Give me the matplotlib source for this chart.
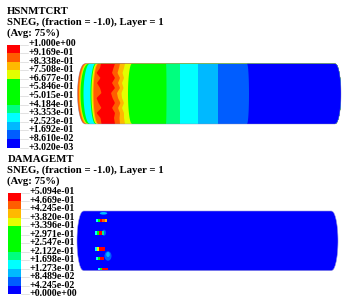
import numpy as np
import matplotlib
matplotlib.use("Agg")
import matplotlib.pyplot as plt
from matplotlib.patches import Polygon, Rectangle, Ellipse

mpl_font = "Liberation Serif"
fontsize = 7.1
title_size = 7.75

legend_colors = ["#ff0000", "#ff5d00", "#ffb900", "#e3ff00", "#00ff00", "#00ff00",
                 "#00ff00", "#00ff7f", "#00ffff", "#00b9ff", "#005dff", "#0000ff"]

top_title = ["HSNMTCRT", "SNEG, (fraction = -1.0), Layer = 1", "(Avg: 75%)"]
top_labels = ["+1.000e+00", "+9.169e-01", "+8.338e-01", "+7.508e-01", "+6.677e-01",
              "+5.846e-01", "+5.015e-01", "+4.184e-01", "+3.353e-01", "+2.523e-01",
              "+1.692e-01", "+8.610e-02", "+3.020e-03"]

bot_title = ["DAMAGEMT", "SNEG, (fraction = -1.0), Layer = 1", "(Avg: 75%)"]
bot_labels = ["+5.094e-01", "+4.669e-01", "+4.245e-01", "+3.820e-01", "+3.396e-01",
              "+2.971e-01", "+2.547e-01", "+2.122e-01", "+1.698e-01", "+1.273e-01",
              "+8.489e-02", "+4.245e-02", "+0.000e+00"]

# contour bands along the top cylinder, pixel x at the cylinder's top edge,
# how far the band edge bows at mid height, and the legend colour index
band_x = [85, 86.5, 87.5, 88.5, 90, 95.5, 96.5, 97.5, 98.5, 132, 166, 180, 198, 218, 247]
band_bow = [-7.5, -7.5, -7.5, -8, -6.5, -5, -5, -5, -5, -4, 0.5, 0, 0, 0, 2]
band_col = [1, 2, 3, 4, 8, 4, 3, 2, 1, 4, 7, 8, 9, 10, 11]

# wavy hot zone, pixel positions
wave_y = [63.5, 68, 73, 78, 83, 88, 93, 98, 103, 108, 113, 118, 124]
red_left = [101, 100, 96.5, 100.5, 97, 100, 101.5, 96.5, 98.5, 101.5, 96.5, 100.5, 101.5]
red_right = [115, 113.5, 112, 115, 112, 115, 111, 112.5, 115, 112, 115, 114, 115]
amber_right = [120, 119, 117.5, 120, 118, 120, 117, 118, 120.5, 118, 120, 119.5, 120]
lime_left = [125, 124, 122.5, 124, 122, 123.5, 121.5, 122, 124, 122, 124, 124, 125]

# damage spots: row y, then x start, x end, colour index of each piece
spot_y = [220.7, 232.7, 249.3, 258.7, 268.7]
spot_x = [[96, 98, 100, 101.5, 104.5, 106.5], [95, 97, 99, 102, 104], [95, 97, 99, 105],
          [96, 98, 100, 104], [98, 100, 102, 108]]
spot_c = [[8, 4, 0, 1, 2], [8, 4, 0, 7], [8, 3, 0], [8, 4, 0], [8, 4, 0]]
spot_h = [3.2, 4, 4, 3.2, 2.2]


def end_curve(y, yc, h):
    t = np.clip((y - yc) / h, -1, 1)
    return np.sqrt(1 - t**2)


def cylinder(y0, y1, x0, x1, bow_l, bow_r):
    yc, h = (y0 + y1) / 2, (y1 - y0) / 2
    y = np.linspace(y0, y1, 60)
    left = x0 + bow_l * end_curve(y, yc, h)
    right = x1 + bow_r * end_curve(y, yc, h)
    return np.r_[np.c_[left, y], np.c_[right[::-1], y[::-1]]]


def legend(ax, x0, x1, y0, y1, labels, title, tx, ty):
    edges = np.linspace(y0, y1, 13)
    for i, c in enumerate(legend_colors):
        ax.add_patch(Rectangle((x0, edges[i]), x1 - x0, edges[i + 1] - edges[i], fc=c, ec="none"))
    for e, lab in zip(edges, labels):
        ax.plot([x1, x1 + 8], [e, e], color="#cccccc", lw=0.4)
        ax.text(x1 + 9, e - 0.5, lab, fontsize=fontsize, fontweight="bold", family=mpl_font,
                va="center", ha="left")
    for i, t in enumerate(title):
        ax.text(tx, ty + i * 11, t, fontsize=title_size, fontweight="bold", family=mpl_font,
                va="center", ha="left")


fig = plt.figure(figsize=(3.48, 3.03), dpi=100)
ax = fig.add_axes([0, 0, 1, 1])
ax.set_xlim(0, 348)
ax.set_ylim(303, 0)
ax.axis("off")

legend(ax, 6.5, 19.5, 44.5, 147.5, top_labels, top_title, 6.7, 11.3)
legend(ax, 7.5, 20.5, 192.5, 294, bot_labels, bot_title, 7.3, 159)

# top cylinder
y0, y1 = 63.5, 124
yc, h = (y0 + y1) / 2, (y1 - y0) / 2
outline = cylinder(y0, y1, 85, 335, -7.5, 6)
body = Polygon(outline, closed=True, fc=legend_colors[1], ec="none", zorder=2)
ax.add_patch(body)
yy = np.linspace(y0, y1, 60)


def paint(xs, col, z):
    xs = np.asarray(xs)
    p = Polygon(np.r_[np.c_[xs, yy], [[350, y1], [350, y0]]], closed=True, fc=legend_colors[col],
                ec="none", zorder=z)
    ax.add_patch(p)
    p.set_clip_path(body)


z = 3
for bx, bw, c in zip(band_x, band_bow, band_col):
    xs = bx + bw * end_curve(yy, yc, h)
    # everything right of the hot zone goes over the wavy part
    paint(xs, c, 20 + z if bx > 125 else z)
    z += 1

paint(np.interp(yy, wave_y, red_left), 0, 18)
paint(np.interp(yy, wave_y, red_right), 1, 19)
paint(np.interp(yy, wave_y, amber_right), 2, 20)
paint(np.interp(yy, wave_y, lime_left), 3, 21)

ax.add_patch(Polygon(outline, closed=True, fc="none", ec="#8888bb", lw=0.4, alpha=0.7, zorder=50))

# bottom cylinder
outline2 = cylinder(211, 270.7, 83.5, 331.5, -6.5, 6.5)
ax.add_patch(Polygon(outline2, closed=True, fc="#0000ff", ec="#9999dd", lw=0.4, zorder=2))

# faint patches near the spots
ax.add_patch(Ellipse((103.5, 213.3), 7.5, 2.6, fc="#00b9ff", ec="none", zorder=3))
ax.add_patch(Ellipse((108, 256), 7, 9.5, fc="#005dff", ec="none", zorder=3))
ax.add_patch(Ellipse((108, 254.5), 3.5, 5, fc="#00b9ff", ec="none", zorder=3))
ax.add_patch(Ellipse((104, 232.7), 4, 6, fc="#005dff", ec="none", zorder=3))

for sy, xs, cs, sh in zip(spot_y, spot_x, spot_c, spot_h):
    for i, c in enumerate(cs):
        ax.add_patch(Rectangle((xs[i], sy - sh / 2), xs[i + 1] - xs[i], sh,
                               fc=legend_colors[c], ec="none", zorder=4))

fig.savefig("out.png", dpi=100)
